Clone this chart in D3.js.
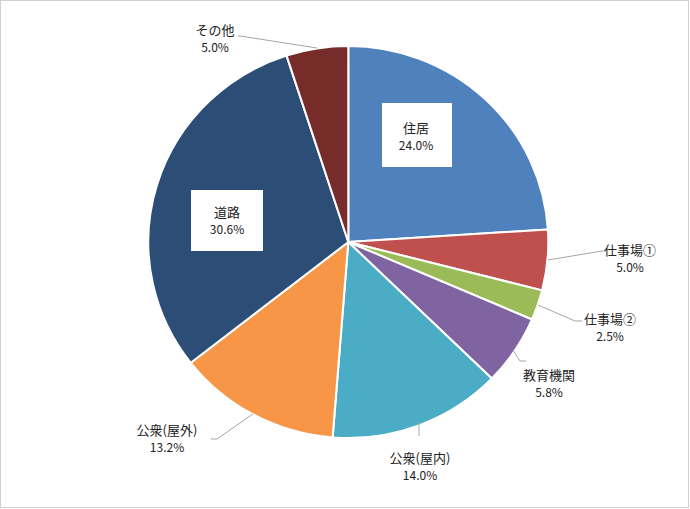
<!DOCTYPE html>
<html><head><meta charset="utf-8">
<script src="https://cdn.jsdelivr.net/npm/d3@7"></script>
<style>body{margin:0;background:#fff}svg{display:block}text{font-family:"Noto Sans CJK JP","Noto Sans",sans-serif;fill:#222}</style>
</head><body><svg id="c" width="690" height="509"></svg>
<script>
const categories = ["住居","仕事場①","仕事場②","教育機関","公衆(屋内)","公衆(屋外)","道路","その他"];
const values = [24.0,5.0,2.5,5.8,14.0,13.2,30.6,5.0];
const valueLabels = ["24.0%","5.0%","2.5%","5.8%","14.0%","13.2%","30.6%","5.0%"];
const colors = ["#4F81BD","#C0504D","#9BBB59","#8064A2","#4BACC6","#F79646","#2C4D75","#772C2A"];

const W=690,H=509,cx=348.3,cy=242,R=196,sx=200/196;
const svg=d3.select("#c");
svg.append("rect").attr("x",0.5).attr("y",0.5).attr("width",688).attr("height",507)
  .attr("fill","#fff").attr("stroke","#D0D0D0");
const g=svg.append("g").attr("transform",`translate(${cx},${cy}) scale(${sx},1)`);
const pie=d3.pie().sort(null).value(d=>d)(values);
const arc=d3.arc().innerRadius(0).outerRadius(R);
g.selectAll("path").data(pie).join("path").attr("d",arc)
  .attr("fill",(d,i)=>colors[i]).attr("stroke","#fff").attr("stroke-width",2).attr("stroke-linejoin","round");

// label layout (absolute page positions of the first text line centre)
const layout=[
  {x:416,y:128,box:[382,103,70,64]},
  {x:630,y:250,lead:[[548,260],[602,251],[606,251]]},
  {x:610,y:319,lead:[[538,305],[575,321],[582,321]]},
  {x:549,y:375,lead:[[513,350],[520,361],[526,361]]},
  {x:420,y:458,lead:[[419,422],[419,436]]},
  {x:167,y:430,lead:[[253,414],[217,439],[211,439]]},
  {x:227,y:212,box:[191,190,72,61]},
  {x:215,y:30,lead:[[317,48],[240,36],[238,36]]}
];
const line=d3.line();
const lg=svg.append("g");
layout.forEach((L,i)=>{
  if(L.lead){
    lg.append("path").attr("d",line(L.lead)).attr("fill","none").attr("stroke","#A6A6A6").attr("stroke-width",1);
  }
  if(L.box){
    lg.append("rect").attr("x",L.box[0]).attr("y",L.box[1]).attr("width",L.box[2]).attr("height",L.box[3])
      .attr("fill","#fff");
  }
  const t=lg.append("text").attr("text-anchor","middle").attr("font-size",13);
  t.append("tspan").attr("x",L.x).attr("y",L.y+4.5).text(categories[i]);
  t.append("tspan").attr("x",L.x).attr("y",L.y+21.5).attr("font-size",12).text(valueLabels[i]);
});
</script></body></html>
